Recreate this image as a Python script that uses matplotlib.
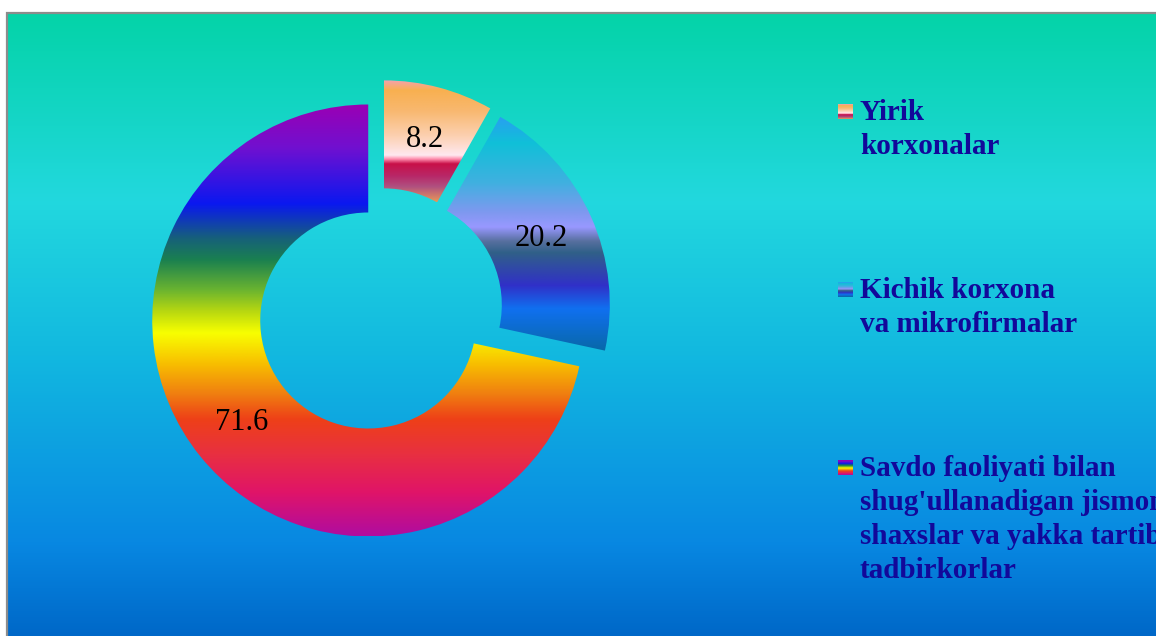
import numpy as np
import matplotlib
matplotlib.use("Agg")
import matplotlib.pyplot as plt
from matplotlib.colors import to_rgb
from matplotlib.patches import Rectangle

# data
categories = ["Yirik\nkorxonalar",
              "Kichik korxona\nva mikrofirmalar",
              "Savdo faoliyati bilan\nshug'ullanadigan jismoniy\nshaxslar va yakka tartibdagi\ntadbirkorlar"]
shares = [8.2, 20.2, 71.6]

# gradient fills (position from top, colour)
fills = [
    [(0.0, '#f4a0b8'), (0.09, '#f8b050'), (0.26, '#f8b870'), (0.46, '#fcd0b0'),
     (0.62, '#ffe8f0'), (0.65, '#ff90b0'), (0.69, '#c81048'), (0.79, '#b82868'),
     (0.875, '#b05080'), (1.0, '#e89858')],
    [(0.0, '#28a0f0'), (0.11, '#10c0d8'), (0.28, '#40b0e0'), (0.41, '#8098f0'),
     (0.47, '#9898ff'), (0.53, '#5870a0'), (0.58, '#306088'), (0.72, '#3030c8'),
     (0.82, '#1070f0'), (1.0, '#0868a8')],
    [(0.0, '#9a00b4'), (0.10, '#7010d0'), (0.23, '#0a18f0'), (0.31, '#16607a'),
     (0.36, '#1a8050'), (0.43, '#6ab430'), (0.48, '#b8d810'), (0.53, '#f8ff00'),
     (0.60, '#f8c000'), (0.67, '#f08010'), (0.73, '#ee4018'), (0.81, '#e83040'),
     (0.90, '#e01468'), (1.0, '#b00ca0')],
]
bg_fill = [(0.0, '#04d3a8'), (0.30, '#22d8de'), (0.55, '#12b8e0'),
           (0.85, '#0888e2'), (1.0, '#0068c8')]


def grad_img(stops, n=300):
    pos = [p for p, c in stops]
    cols = np.array([to_rgb(c) for p, c in stops])
    t = np.linspace(0, 1, n)
    arr = np.stack([np.interp(t, pos, cols[:, k]) for k in range(3)], axis=-1)
    return arr[:, None, :]


W, H = 1156, 636
fig = plt.figure(figsize=(W / 100, H / 100), dpi=100)
fig.patch.set_facecolor('white')

# background panel
bg = fig.add_axes([7 / W, 0, 1 - 7 / W, (H - 13) / H])
bg.imshow(grad_img(bg_fill), aspect='auto', extent=(0, 1, 0, 1))
bg.axis('off')
fig.add_artist(Rectangle((7 / W, -0.1), 2, (H - 13) / H + 0.1, transform=fig.transFigure,
                         fill=False, ec='#8c8c8c', lw=1.6))

# donut
R = 216.0
cx, cy = 380.0, 311.0
ax = fig.add_axes([0, 0, 1, 1])
ax.axis('off')

wedges, _, autotexts = ax.pie(shares, startangle=90, counterclock=False,
                              explode=[0.07] * 3,
                              wedgeprops=dict(width=0.5, linewidth=0),
                              autopct='%.1f', pctdistance=0.75,
                              textprops=dict(family='Liberation Serif', size=22, color='black'))
for w, st in zip(wedges, fills):
    w.set_facecolor('none')
    bb = w.get_path().get_extents()
    im = ax.imshow(grad_img(st), extent=(bb.x0, bb.x1, bb.y0, bb.y1),
                   aspect='auto', zorder=1)
    im.set_clip_path(w)
for t in autotexts:
    t.set_zorder(5)


def xd(px):
    return (px - cx) / R


def yd(py):
    return (cy - py) / R


# legend
for i, (lab, st) in enumerate(zip(categories, fills)):
    y0 = 112 + 178 * i
    ax.imshow(grad_img(st, 60), extent=(xd(838), xd(853), yd(y0 + 7), yd(y0 - 8)),
              aspect='auto', zorder=3)
    for j, line in enumerate(lab.split('\n')):
        ax.text(xd(860), yd(y0 + 34 * j), line, ha='left', va='center',
                family='Liberation Serif', weight='bold', size=21, color='#12089a')

ax.set_xlim(xd(0), xd(W))
ax.set_ylim(yd(H), yd(0))
ax.set_aspect('auto')

fig.savefig('out.png', dpi=100)
